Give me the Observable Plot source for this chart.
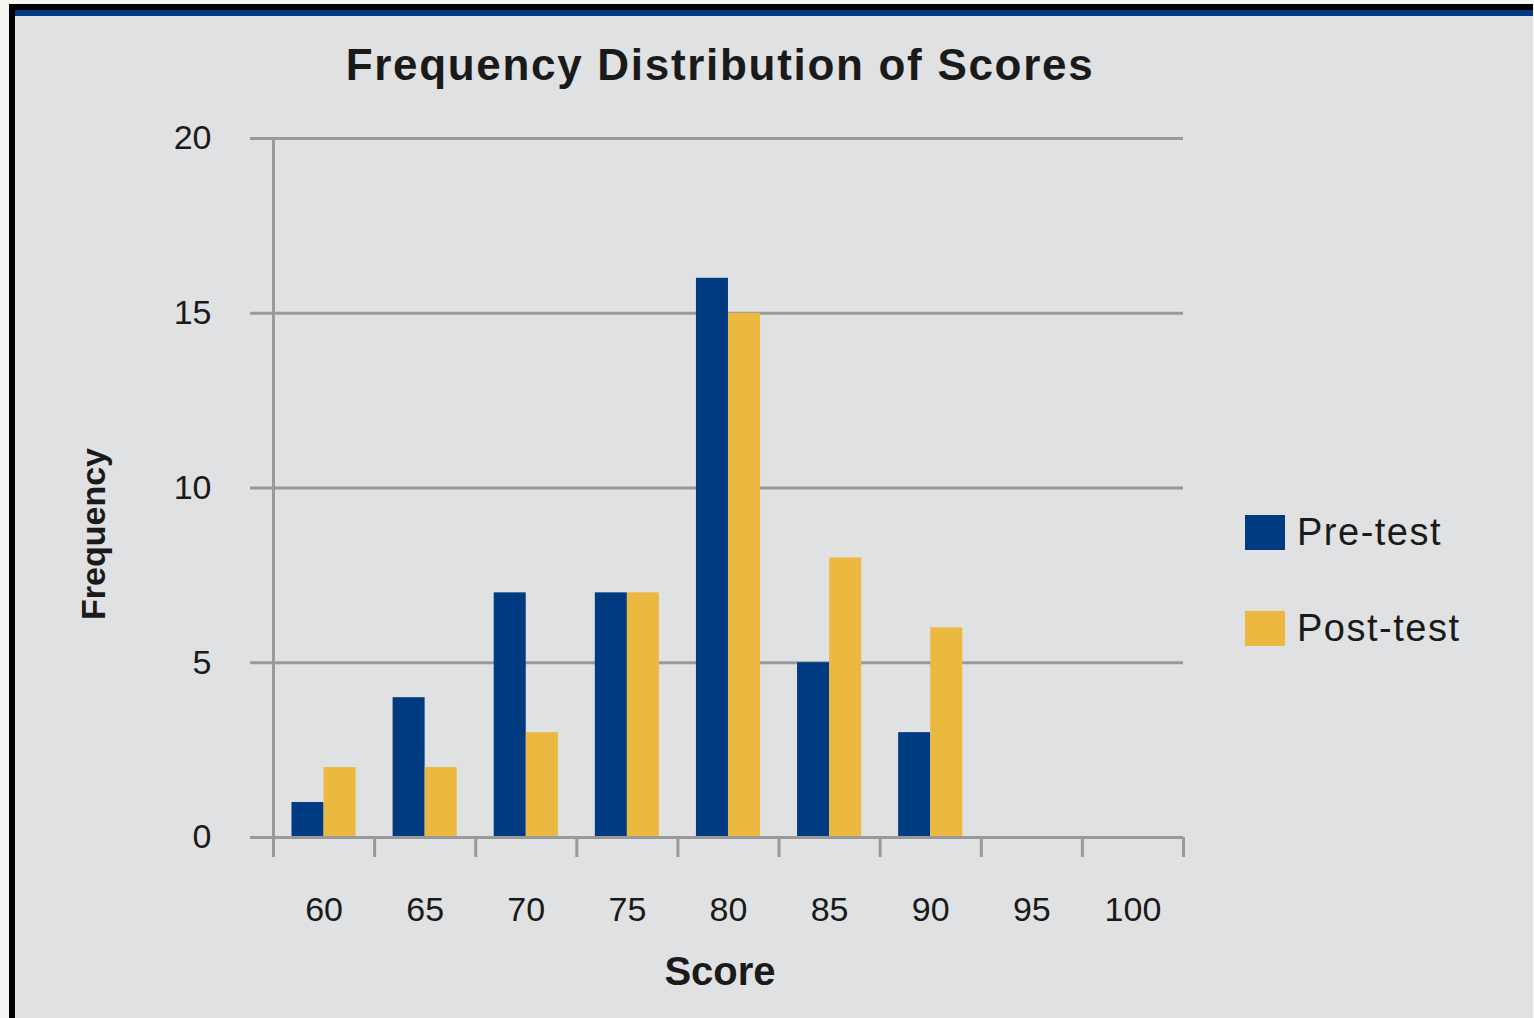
<!DOCTYPE html>
<html>
<head>
<meta charset="utf-8">
<script src="https://cdn.jsdelivr.net/npm/d3@7"></script>
<script src="https://cdn.jsdelivr.net/npm/@observablehq/plot@0.6"></script>
<style>
  html, body { margin: 0; padding: 0; width: 1534px; height: 1018px; overflow: hidden; background: #f5f5f5; font-family: "Liberation Sans", Arial, sans-serif; }
  #frame { position: absolute; left: 9px; top: 4px; width: 1518px; height: 1014px; background: #e0e1e3; border-top: 6px solid #000; border-left: 6px solid #000; }
  #navy { position: absolute; left: 15px; top: 10px; width: 1518px; height: 6px; background: #003a80; }
  #chart { position: absolute; left: 0; top: 0; }
  .title { position: absolute; left: 0; width: 1440px; top: 43px; text-align: center; font-weight: bold; font-size: 44px; line-height: 44px; letter-spacing: 1.7px; color: #1a1a1a; }
  .xlabel { position: absolute; left: 620px; width: 200px; top: 951px; text-align: center; font-weight: bold; font-size: 40px; line-height: 40px; color: #1a1a1a; }
  .ylabel { position: absolute; left: 93px; top: 534px; transform: translate(-50%, -50%) rotate(-90deg); font-weight: bold; font-size: 34px; line-height: 34px; color: #1a1a1a; white-space: nowrap; }
  .legend-item { position: absolute; left: 1245px; display: flex; align-items: center; font-size: 38px; line-height: 38px; letter-spacing: 1.5px; color: #1a1a1a; white-space: nowrap; }
  .swatch { width: 40px; height: 35px; margin-right: 12px; }
</style>
</head>
<body>
<div id="frame"></div>
<div id="navy"></div>
<div id="chart"></div>
<div class="title">Frequency Distribution of Scores</div>
<div class="xlabel">Score</div>
<div class="ylabel">Frequency</div>
<div id="legend"></div>
<script>
// Data
const scores = [60, 65, 70, 75, 80, 85, 90, 95, 100];
const preTest = [1, 4, 7, 7, 16, 5, 3, 0, 0];
const postTest = [2, 2, 3, 7, 15, 8, 6, 0, 0];
const yTicks = [0, 5, 10, 15, 20];
const seriesNames = ["Pre-test", "Post-test"];
const seriesColors = ["#003a80", "#ebb940"];
const binWidth = 5;

const pre = scores.map((s, i) => ({score: s, value: preTest[i]})).filter(d => d.value > 0);
const post = scores.map((s, i) => ({score: s, value: postTest[i]})).filter(d => d.value > 0);
const lo = scores[0] - binWidth / 2;
const hi = scores[scores.length - 1] + binWidth / 2;
const boundaries = scores.map(s => s - binWidth / 2).concat([hi]);

const gray = "#999999";
const chart = Plot.plot({
  width: 1534,
  height: 1018,
  marginLeft: 273,
  marginRight: 351,
  marginTop: 138,
  marginBottom: 181,
  style: {background: "transparent", fontFamily: "Liberation Sans, Arial, sans-serif", color: "#1a1a1a", overflow: "visible"},
  x: {type: "linear", domain: [lo, hi], axis: null},
  y: {domain: [0, 20], axis: null},
  marks: [
    Plot.gridY({ticks: yTicks, stroke: gray, strokeWidth: 3, strokeOpacity: 1}),
    Plot.axisY({ticks: yTicks, tickSize: 23, tickPadding: 39, stroke: gray, strokeWidth: 3, strokeOpacity: 1, fontSize: 34, fill: "#1a1a1a", label: null}),
    Plot.ruleX([lo], {y1: 0, y2: 20, stroke: gray, strokeWidth: 3}),
    Plot.axisX({ticks: boundaries, tickSize: 20, tickFormat: () => "", stroke: gray, strokeWidth: 3, strokeOpacity: 1, label: null}),
    Plot.axisX({ticks: scores, tickSize: 0, tickPadding: 59, fontSize: 34, fill: "#1a1a1a", tickFormat: d => String(d), label: null}),
    Plot.rectY(pre, {x1: d => d.score - binWidth / 2, x2: d => d.score + binWidth / 2, y1: 0, y2: "value", fill: seriesColors[0], insetLeft: 18.5, insetRight: 50.6}),
    Plot.rectY(post, {x1: d => d.score - binWidth / 2, x2: d => d.score + binWidth / 2, y1: 0, y2: "value", fill: seriesColors[1], insetLeft: 50.6, insetRight: 18.5}),
    Plot.ruleY([0], {stroke: gray, strokeWidth: 3})
  ]
});
document.getElementById("chart").appendChild(chart);

const legend = document.getElementById("legend");
const legendTops = [513, 609];
seriesNames.forEach((name, i) => {
  const item = document.createElement("div");
  item.className = "legend-item";
  item.style.top = legendTops[i] + "px";
  const sw = document.createElement("div");
  sw.className = "swatch";
  sw.style.background = seriesColors[i];
  const label = document.createElement("span");
  label.textContent = name;
  item.appendChild(sw);
  item.appendChild(label);
  legend.appendChild(item);
});
</script>
</body>
</html>
